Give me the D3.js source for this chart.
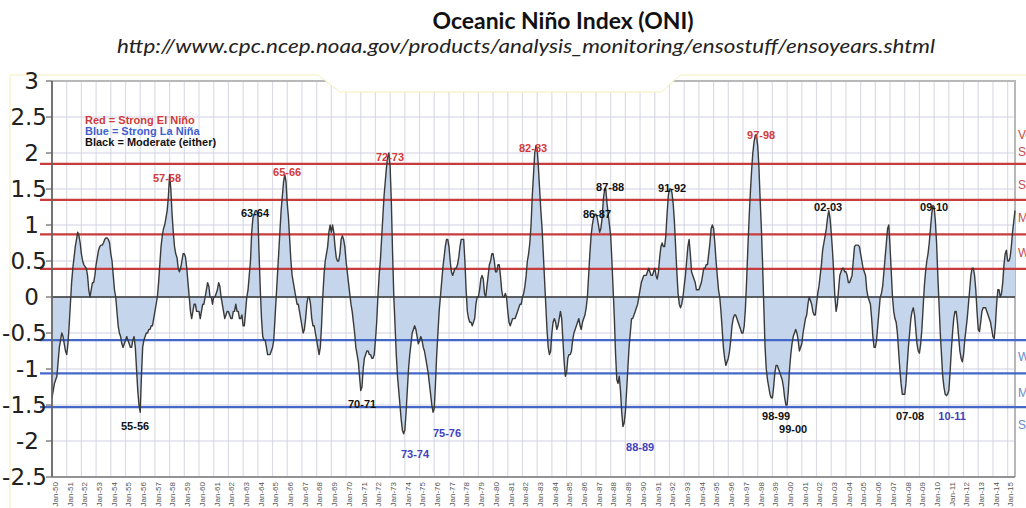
<!DOCTYPE html>
<html>
<head>
<meta charset="utf-8">
<style>
  body { margin: 0; background: #fff; }
  svg { display: block; }
  .title { font-family: 'Lato', sans-serif; font-weight: bold; font-size: 22px; fill: #111; }
  .subtitle { font-family: 'Lato', sans-serif; font-style: italic; font-weight: normal; font-size: 19px; fill: #222; }
  .ylab { font-family: 'DejaVu Sans', sans-serif; font-size: 23px; fill: #222; }
  .xlab { font-family: 'Liberation Sans', Arial, sans-serif; font-size: 8px; fill: #555; }
  .event { font-family: 'Liberation Sans', Arial, sans-serif; font-size: 11px; font-weight: bold; }
  .legend { font-family: 'Liberation Sans', Arial, sans-serif; font-size: 11px; font-weight: bold; }
  .side { font-family: 'Liberation Sans', Arial, sans-serif; font-size: 12px; }
</style>
</head>
<body>
<svg id="chart" width="1026" height="508"></svg>
<script src="https://cdn.jsdelivr.net/npm/d3@7"></script>
<script>
  // monthly ONI values (running 3-month means), Jan 1950 .. Jul 2015
  const oni1950s = [
    -1.4, -1.3, -1.2, -1.15, -1.1, -0.9, -0.7, -0.6, -0.5, -0.55, -0.65, -0.75,
    -0.8, -0.65, -0.4, -0.1, 0.2, 0.4, 0.55, 0.7, 0.8, 0.9, 0.85, 0.75,
    0.6, 0.5, 0.45, 0.42, 0.4, 0.3, 0.1, 0.0, 0.1, 0.2, 0.2, 0.3,
    0.45, 0.55, 0.65, 0.7, 0.72, 0.72, 0.75, 0.8, 0.82, 0.82, 0.8, 0.75,
    0.6, 0.5, 0.3, 0.1, 0.0, -0.2, -0.4, -0.5, -0.55, -0.65, -0.7, -0.65,
    -0.6, -0.55, -0.6, -0.65, -0.7, -0.7, -0.6, -0.55, -0.7, -1.0, -1.3, -1.5,
    -1.6, -1.1, -0.7, -0.6, -0.55, -0.5, -0.5, -0.45, -0.45, -0.4, -0.4, -0.3,
    -0.2, -0.1, 0.0, 0.2, 0.45, 0.7, 0.85, 0.95, 1.0, 1.1, 1.2, 1.4,
    1.7, 1.5, 1.15, 0.9, 0.7, 0.6, 0.55, 0.4, 0.35, 0.4, 0.5, 0.6,
    0.6, 0.55, 0.4, 0.2, 0.0, -0.2, -0.3, -0.2, -0.1, -0.1, -0.2, -0.2
  ];
  const oni1960s = [
    -0.2, -0.3, -0.2, -0.1, -0.1, 0.0, 0.1, 0.2, 0.15, 0.0, 0.0, -0.1,
    0.0, 0.0, 0.05, 0.1, 0.2, 0.15, 0.0, -0.1, -0.2, -0.3, -0.25, -0.2,
    -0.2, -0.25, -0.3, -0.3, -0.2, -0.2, -0.1, -0.2, -0.2, -0.3, -0.3, -0.25,
    -0.4, -0.4, -0.2, 0.0, 0.1, 0.3, 0.5, 0.9, 1.1, 1.15, 1.2, 1.2,
    1.15, 0.6, 0.1, -0.3, -0.55, -0.6, -0.6, -0.7, -0.8, -0.8, -0.8, -0.75,
    -0.7, -0.6, -0.3, 0.0, 0.3, 0.6, 0.9, 1.2, 1.4, 1.6, 1.7, 1.6,
    1.3, 1.1, 0.8, 0.5, 0.3, 0.2, 0.1, 0.0, -0.1, -0.1, -0.2, -0.3,
    -0.4, -0.5, -0.45, -0.3, -0.1, 0.0, 0.0, -0.1, -0.3, -0.4, -0.4, -0.5,
    -0.6, -0.7, -0.8, -0.7, -0.4, 0.0, 0.3, 0.5, 0.6, 0.7, 0.9, 1.0,
    0.9, 1.0, 0.9, 0.7, 0.55, 0.5, 0.5, 0.6, 0.8, 0.85, 0.8, 0.7
  ];
  const oni1970s = [
    0.5, 0.35, 0.2, 0.05, -0.1, -0.2, -0.35, -0.5, -0.7, -0.8, -0.9, -1.1,
    -1.3, -1.25, -1.0, -0.85, -0.8, -0.75, -0.75, -0.8, -0.8, -0.85, -0.85, -0.8,
    -0.6, -0.35, 0.0, 0.3, 0.5, 0.8, 1.1, 1.4, 1.6, 1.8, 1.95, 2.0,
    1.8, 1.3, 0.6, 0.0, -0.4, -0.8, -1.1, -1.3, -1.5, -1.7, -1.85, -1.9,
    -1.85, -1.6, -1.3, -1.0, -0.8, -0.65, -0.5, -0.45, -0.4, -0.45, -0.55, -0.65,
    -0.6, -0.55, -0.6, -0.7, -0.75, -0.85, -0.95, -1.05, -1.2, -1.35, -1.5, -1.6,
    -1.55, -1.2, -0.8, -0.5, -0.2, 0.0, 0.2, 0.4, 0.55, 0.7, 0.8, 0.8,
    0.7, 0.5, 0.35, 0.3, 0.35, 0.4, 0.4, 0.45, 0.55, 0.7, 0.8, 0.8,
    0.8, 0.5, 0.1, -0.2, -0.3, -0.35, -0.35, -0.4, -0.35, -0.3, -0.1, 0.0,
    0.0, 0.1, 0.25, 0.3, 0.25, 0.05, 0.0, 0.15, 0.3, 0.45, 0.5, 0.6
  ];
  const oni1980s = [
    0.6, 0.5, 0.35, 0.35, 0.45, 0.45, 0.3, 0.1, 0.0, 0.0, 0.05, 0.0,
    -0.2, -0.35, -0.4, -0.35, -0.3, -0.3, -0.3, -0.25, -0.2, -0.15, -0.1, -0.1,
    0.0, 0.05, 0.15, 0.3, 0.5, 0.6, 0.75, 1.0, 1.4, 1.7, 2.0, 2.1,
    2.05, 1.8, 1.5, 1.2, 0.95, 0.6, 0.25, -0.1, -0.45, -0.7, -0.8, -0.75,
    -0.5, -0.35, -0.3, -0.35, -0.45, -0.4, -0.3, -0.2, -0.3, -0.6, -0.9, -1.1,
    -1.05, -0.85, -0.8, -0.8, -0.75, -0.6, -0.5, -0.45, -0.4, -0.35, -0.3, -0.4,
    -0.45, -0.35, -0.3, -0.25, -0.15, 0.0, 0.3, 0.6, 0.85, 1.0, 1.1, 1.15,
    1.15, 1.1, 1.0, 0.9, 0.95, 1.1, 1.35, 1.5, 1.5, 1.3, 1.15, 1.0,
    0.85, 0.5, 0.1, -0.3, -0.8, -1.15, -1.2, -1.1, -1.3, -1.6, -1.8, -1.75,
    -1.6, -1.3, -1.0, -0.7, -0.5, -0.3, -0.3, -0.25, -0.2, -0.15, -0.1, 0.0
  ];
  const oni1990s = [
    0.1, 0.2, 0.25, 0.3, 0.3, 0.3, 0.35, 0.4, 0.35, 0.3, 0.3, 0.35,
    0.4, 0.3, 0.25, 0.35, 0.55, 0.7, 0.75, 0.7, 0.7, 0.85, 1.15, 1.4,
    1.5, 1.5, 1.45, 1.3, 1.05, 0.7, 0.35, 0.05, -0.1, -0.15, -0.1, 0.0,
    0.15, 0.3, 0.5, 0.7, 0.8, 0.6, 0.35, 0.3, 0.25, 0.2, 0.1, 0.1,
    0.1, 0.15, 0.2, 0.3, 0.4, 0.4, 0.45, 0.45, 0.6, 0.75, 0.95, 1.0,
    0.95, 0.75, 0.5, 0.3, 0.1, 0.0, -0.2, -0.45, -0.7, -0.85, -0.95, -0.9,
    -0.85, -0.75, -0.6, -0.4, -0.3, -0.25, -0.25, -0.3, -0.35, -0.4, -0.45, -0.5,
    -0.5, -0.4, -0.15, 0.25, 0.7, 1.1, 1.45, 1.75, 2.0, 2.15, 2.25, 2.25,
    2.1, 1.8, 1.35, 0.95, 0.45, -0.15, -0.7, -1.0, -1.15, -1.25, -1.35, -1.4,
    -1.4, -1.25, -1.05, -0.95, -0.95, -1.0, -1.05, -1.1, -1.15, -1.25, -1.4, -1.5
  ];
  const oni2000s = [
    -1.5, -1.3, -1.0, -0.8, -0.65, -0.55, -0.5, -0.45, -0.5, -0.6, -0.75, -0.7,
    -0.65, -0.5, -0.4, -0.3, -0.25, -0.1, 0.0, -0.05, -0.1, -0.2, -0.25, -0.25,
    -0.1, 0.05, 0.15, 0.3, 0.45, 0.65, 0.75, 0.85, 0.95, 1.1, 1.2, 1.1,
    0.9, 0.65, 0.35, 0.0, -0.2, -0.1, 0.1, 0.3, 0.35, 0.4, 0.4, 0.35,
    0.35, 0.3, 0.2, 0.2, 0.25, 0.3, 0.5, 0.7, 0.72, 0.72, 0.72, 0.7,
    0.6, 0.5, 0.4, 0.35, 0.3, 0.1, 0.0, -0.05, -0.1, -0.3, -0.55, -0.7,
    -0.7, -0.6, -0.4, -0.2, 0.0, 0.05, 0.15, 0.35, 0.55, 0.75, 0.95, 1.0,
    0.7, 0.35, 0.0, -0.2, -0.3, -0.35, -0.5, -0.75, -1.0, -1.2, -1.35, -1.35,
    -1.35, -1.2, -0.95, -0.7, -0.5, -0.3, -0.2, -0.15, -0.25, -0.45, -0.65, -0.75,
    -0.78, -0.65, -0.45, -0.15, 0.15, 0.35, 0.5, 0.6, 0.75, 0.95, 1.15, 1.27
  ];
  const oni2010s = [
    1.25, 1.05, 0.75, 0.3, -0.1, -0.5, -0.8, -1.1, -1.25, -1.35, -1.37, -1.35,
    -1.3, -1.05, -0.75, -0.5, -0.3, -0.2, -0.2, -0.35, -0.55, -0.75, -0.85, -0.9,
    -0.8, -0.6, -0.45, -0.3, -0.1, 0.1, 0.3, 0.4, 0.4, 0.3, 0.1, -0.2,
    -0.45, -0.48, -0.35, -0.2, -0.15, -0.15, -0.15, -0.2, -0.25, -0.3, -0.35, -0.45,
    -0.55, -0.58, -0.4, -0.1, 0.1, 0.1, 0.0, 0.05, 0.2, 0.45, 0.6, 0.65,
    0.5, 0.5, 0.55, 0.7, 0.9, 1.05, 1.2
  ];

  const startYear = 1950;
  const yTicks = [3, 2.5, 2, 1.5, 1, 0.5, 0, -0.5, -1, -1.5, -2, -2.5];
  const yearTicks = d3.range(1950, 2016);

  // hand-drawn threshold lines
  const redLevels = [1.85, 1.35, 0.87, 0.39];
  const blueLevels = [-0.6, -1.06, -1.53];

  const legendRows = [
    { text: "Red = Strong El Niño", color: "#d23a3a" },
    { text: "Blue = Strong La Niña", color: "#3f5fd0" },
    { text: "Black = Moderate (either)", color: "#111" }
  ];

  // event labels: [label, year, value, colour]
  const events = [
    ["57-58", 1957.82, 1.65, "#d23a3a"],
    ["65-66", 1965.99, 1.74, "#d23a3a"],
    ["72-73", 1972.99, 1.94, "#d23a3a"],
    ["82-83", 1982.72, 2.07, "#d23a3a"],
    ["97-98", 1998.23, 2.25, "#d23a3a"],
    ["63-64", 1963.81, 1.17, "#111"],
    ["86-87", 1987.07, 1.15, "#111"],
    ["87-88", 1987.96, 1.53, "#111"],
    ["91-92", 1992.18, 1.51, "#111"],
    ["02-03", 2002.79, 1.25, "#111"],
    ["09-10", 2010.0, 1.25, "#111"],
    ["55-56", 1955.65, -1.79, "#111"],
    ["70-71", 1971.09, -1.49, "#111"],
    ["98-99", 1999.25, -1.65, "#111"],
    ["99-00", 2000.41, -1.83, "#111"],
    ["07-08", 2008.37, -1.65, "#111"],
    ["73-74", 1974.69, -2.18, "#3f3fc0"],
    ["75-76", 1976.87, -1.89, "#3f3fc0"],
    ["88-89", 1990.0, -2.08, "#3f3fc0"],
    ["10-11", 2011.22, -1.65, "#3f3fc0"]
  ];

  // class names on the right, mostly cut off by the picture edge
  const sideLabels = [
    ["Very", 2.25, "#c84a4a"],
    ["Strong", 2.01, "#c84a4a"],
    ["Strong", 1.56, "#c84a4a"],
    ["Moderate", 1.1, "#c84a4a"],
    ["Weak", 0.62, "#c84a4a"],
    ["Weak", -0.83, "#6a86c8"],
    ["Moderate", -1.33, "#6a86c8"],
    ["Strong", -1.78, "#6a86c8"]
  ];

  const oni = [].concat(oni1950s, oni1960s, oni1970s, oni1980s, oni1990s, oni2000s, oni2010s);
  const series = oni.map((v, i) => ({ t: startYear + i / 12, v: v }));

  const svg = d3.select("#chart");
  const x = d3.scaleLinear().domain([1950, 2015.5]).range([52, 1015]);
  const y = d3.scaleLinear().domain([-2.5, 3]).range([477, 81]);

  // grid
  const grid = svg.append("g");
  grid.selectAll(".vg").data(yearTicks).join("line")
    .attr("x1", d => x(d)).attr("x2", d => x(d))
    .attr("y1", y(3)).attr("y2", y(-2.5))
    .attr("stroke", "#dcdce6").attr("stroke-width", 1.2);
  grid.selectAll(".hg").data(yTicks).join("line")
    .attr("x1", x(1950)).attr("x2", x(2015.5))
    .attr("y1", d => y(d)).attr("y2", d => y(d))
    .attr("stroke", "#d2d2e2").attr("stroke-width", 1.2);

  // plot frame (top and right)
  svg.append("path")
    .attr("d", `M${x(1950)},${y(3)} H${x(2015.5)} V${y(-2.5)}`)
    .attr("fill", "none").attr("stroke", "#b8b8b8").attr("stroke-width", 2);

  // area + thresholds + line
  const area = d3.area().x(d => x(d.t)).y0(y(0)).y1(d => y(d.v));
  const line = d3.line().x(d => x(d.t)).y(d => y(d.v));

  svg.append("path").datum(series).attr("d", area)
    .attr("fill", "#c4d5ec");

  svg.selectAll(".red").data(redLevels).join("line")
    .attr("x1", 40).attr("x2", 1026)
    .attr("y1", d => y(d)).attr("y2", d => y(d))
    .attr("stroke", "#c83c3c").attr("stroke-width", 2.2);
  svg.selectAll(".blue").data(blueLevels).join("line")
    .attr("x1", 40).attr("x2", 1026)
    .attr("y1", d => y(d)).attr("y2", d => y(d))
    .attr("stroke", "#4468c8").attr("stroke-width", 2.2);

  svg.append("line")
    .attr("x1", x(1950)).attr("x2", x(2015.5))
    .attr("y1", y(0)).attr("y2", y(0))
    .attr("stroke", "#333").attr("stroke-width", 1.5);

  svg.append("path").datum(series).attr("d", line)
    .attr("fill", "none").attr("stroke", "#3a3a3a").attr("stroke-width", 1.4)
    .attr("stroke-linejoin", "round");

  // white patch left by the pasted picture, with its yellow edge
  svg.append("path")
    .attr("d", "M318,0 L318,75 L340,92 L662,92 L680,75 L680,0 Z")
    .attr("fill", "#fff");
  svg.append("path")
    .attr("d", "M10,508 V75 H318 L340,92 H662 L680,75 H1026")
    .attr("fill", "none").attr("stroke", "#f3efb8").attr("stroke-width", 1);

  // y axis
  const yAxis = svg.append("g");
  yAxis.append("line")
    .attr("x1", x(1950)).attr("x2", x(1950))
    .attr("y1", y(3)).attr("y2", y(-2.5))
    .attr("stroke", "#666").attr("stroke-width", 1.8);
  yAxis.selectAll(".tk").data(yTicks).join("line")
    .attr("x1", x(1950) - 6).attr("x2", x(1950))
    .attr("y1", d => y(d)).attr("y2", d => y(d))
    .attr("stroke", "#666").attr("stroke-width", 1.2);
  yAxis.selectAll(".ylab").data(yTicks).join("text")
    .attr("class", "ylab")
    .attr("x", d => Number.isInteger(d) ? 39 : 47)
    .attr("y", d => y(d)).attr("dy", "0.36em")
    .attr("text-anchor", "end")
    .text(d => String(d));

  // x axis
  svg.append("line")
    .attr("x1", x(1950)).attr("x2", x(2015.5))
    .attr("y1", y(-2.5)).attr("y2", y(-2.5))
    .attr("stroke", "#777").attr("stroke-width", 1.5);
  svg.selectAll(".xlab").data(yearTicks).join("text")
    .attr("class", "xlab")
    .attr("transform", d => `translate(${x(d) + 3},482) rotate(-90)`)
    .attr("text-anchor", "end").attr("dy", "0.35em")
    .text(d => "Jan-" + String(d % 100).padStart(2, "0"));

  // legend
  svg.selectAll(".legend").data(legendRows).join("text")
    .attr("class", "legend")
    .attr("x", 85).attr("y", (d, i) => 124 + i * 11)
    .attr("fill", d => d.color)
    .text(d => d.text);

  // event labels
  svg.selectAll(".event").data(events).join("text")
    .attr("class", "event")
    .attr("x", d => x(d[1])).attr("y", d => y(d[2])).attr("dy", "0.35em")
    .attr("text-anchor", "middle")
    .attr("fill", d => d[3])
    .text(d => d[0]);

  // right-hand class names
  svg.selectAll(".side").data(sideLabels).join("text")
    .attr("class", "side")
    .attr("x", 1018).attr("y", d => y(d[1])).attr("dy", "0.35em")
    .attr("fill", d => d[2])
    .text(d => d[0]);

  // titles, drawn last so nothing covers them
  svg.append("text").attr("class", "title")
    .attr("x", 563).attr("y", 29).attr("text-anchor", "middle")
    .attr("textLength", 261).attr("lengthAdjust", "spacingAndGlyphs")
    .text("Oceanic Niño Index (ONI)");
  svg.append("text").attr("class", "subtitle")
    .attr("x", 526).attr("y", 53).attr("text-anchor", "middle")
    .attr("textLength", 818).attr("lengthAdjust", "spacingAndGlyphs")
    .text("http://www.cpc.ncep.noaa.gov/products/analysis_monitoring/ensostuff/ensoyears.shtml");
</script>
</body>
</html>
